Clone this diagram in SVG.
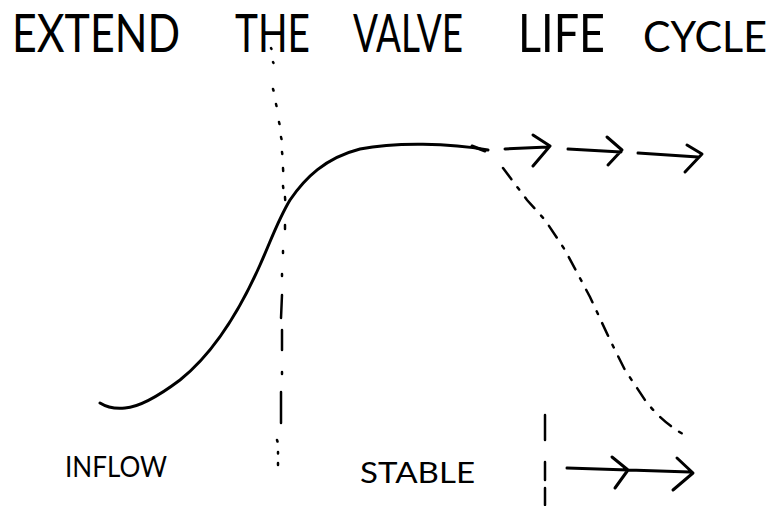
<svg xmlns="http://www.w3.org/2000/svg" width="774" height="506" viewBox="0 0 774 506">
<style>
.t{font-family:"Lato","Liberation Sans",sans-serif;font-weight:400;fill:#000}
.h{font-size:53px}
.l{font-size:28px}
.s{fill:none;stroke:#000;stroke-width:3;stroke-linecap:round;stroke-linejoin:round}
.d{fill:none;stroke:#000;stroke-width:2.5;stroke-linecap:round}
</style>
<rect width="774" height="506" fill="#fff"/>
<g id="title">
<text class="t h" x="12" y="52" textLength="168" lengthAdjust="spacingAndGlyphs">EXTEND</text>
<text class="t h" x="235" y="52" textLength="75" lengthAdjust="spacingAndGlyphs">THE</text>
<text class="t h" x="353" y="52" textLength="110" lengthAdjust="spacingAndGlyphs">VALVE</text>
<text class="t h" x="518" y="52" textLength="87" lengthAdjust="spacingAndGlyphs">LIFE</text>
<text class="t h" x="643" y="52" textLength="124" lengthAdjust="spacingAndGlyphs" style="font-size:42px">CYCLE</text>
</g>
<g id="curve">
<path class="s" d="M100,403 C108,408 115,409 125,408 C140,407 160,395 180,380 C215,352 240,310 260,265 C272,238 278,220 290,200 C305,178 325,158 360,149 C395,142 450,143 488,150"/>
</g>
<g id="decline">
<path class="d" stroke-dasharray="14,10,3,10" d="M503,168 L527,200 L545,220 L565,250 L590,297 L610,340 L625,370 L645,400 C660,420 675,430 690,438"/>
</g>
<g id="extend-arrows">
<path class="s" d="M472,146 L485,151"/>
<path class="s" d="M505,149 L548,147 M533,135 L550,146 L533,166"/>
<path class="s" d="M568,149 L621,152 M607,137 L622,150 L608,165"/>
<path class="s" d="M638,153 L698,157 M687,145 L702,154 L685,172"/>
</g>
<g id="divider-1" class="d">
<path d="M271,48 l0.5,1 M273,62 l0.5,1 M273,89 l0.5,1.5 M276,104 l0.5,2 M279,122 l0.5,2 M281,137 l0.5,2 M282,152 l0.3,2 M283,168 l0.2,3 M283,186 l0.3,2 M285,197 l0.2,3 M285,225 l0,4 M283,251 l0,2 M282,274 l0,2 M282,295 l-1,23 M282,330 l0,20 M282,372 l0,2 M281,392 l0,31 M277,440 l0.5,1.5 M278,452 l0,1.5 M278,463 l0,2"/>
</g>
<g id="divider-2" class="d">
<path d="M545,415 L545,440 M545,462 L545,480 M545,488 L545,505"/>
</g>
<g id="labels">
<text class="t l" x="65" y="477" textLength="102" lengthAdjust="spacingAndGlyphs">INFLOW</text>
<text class="t l" x="360" y="483" textLength="115" lengthAdjust="spacingAndGlyphs">STABLE</text>
</g>
<g id="bottom-arrow">
<path class="s" d="M567,468 L690,472 M612,457 L628,470 L615,488 M677,458 L693,473 L673,490"/>
</g>
</svg>
